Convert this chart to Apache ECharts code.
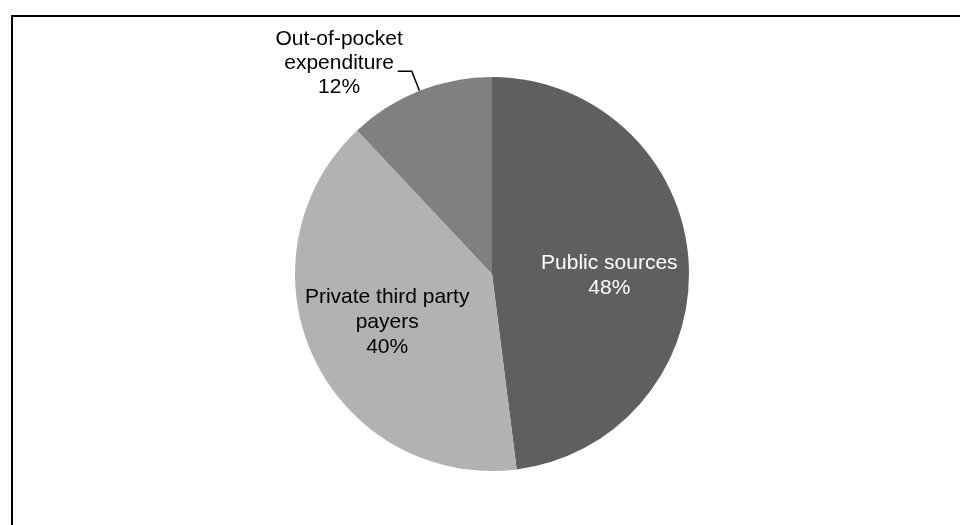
<!DOCTYPE html>
<html>
<head>
<meta charset="utf-8">
<title>Sources of expenditure</title>
<script src="https://cdn.jsdelivr.net/npm/echarts@6/dist/echarts.min.js"></script>
<style>
  html, body { margin: 0; padding: 0; background: #ffffff; }
  #chart { width: 960px; height: 525px; }
</style>
</head>
<body>
<div id="chart"></div>
<script>
// Shares of expenditure by source (percent)
const categories = ['Public sources', 'Private third party\npayers', 'Out-of-pocket\nexpenditure'];
const shares = [48, 40, 12];
const sliceColors = ['#5f5f5f', '#b2b2b2', '#808080'];

const FONT = '"Liberation Sans", Arial, sans-serif';

// wrap every line of a label in a centred rich-text token
function centredLines(text) {
  return text.split('\n').map(function (l) { return '{c|' + l + '}'; }).join('\n');
}

const labelStyles = [
  { position: 'inside', color: '#ffffff', offset: [16, 8], lineHeight: 25 },
  { position: 'inside', color: '#000000', offset: [-13, 5], lineHeight: 25 },
  { position: 'outside', color: '#000000', lineHeight: 24, distanceToLabelLine: -5, padding: [0, 0, 16, 0] }
];

const data = categories.map(function (name, i) {
  const ls = labelStyles[i];
  return {
    name: name,
    value: shares[i],
    itemStyle: { color: sliceColors[i] },
    label: {
      show: true,
      position: ls.position,
      offset: ls.offset,
      distanceToLabelLine: ls.distanceToLabelLine,
      padding: ls.padding,
      formatter: function (p) { return centredLines(p.name + '\n' + p.value + '%'); },
      rich: {
        c: { align: 'center', color: ls.color, fontSize: 21, fontFamily: FONT, lineHeight: ls.lineHeight }
      }
    },
    labelLine: {
      show: ls.position === 'outside',
      length: 21,
      length2: 14,
      smooth: false,
      lineStyle: { color: '#000000', width: 1.5 }
    }
  };
});

const chart = echarts.init(document.getElementById('chart'), null, { renderer: 'canvas' });
chart.setOption({
  backgroundColor: '#ffffff',
  animation: false,
  graphic: [{
    type: 'rect',
    shape: { x: 12, y: 16, width: 1000, height: 600 },
    style: { fill: 'none', stroke: '#000000', lineWidth: 2 },
    silent: true
  }],
  series: [{
    type: 'pie',
    center: [492, 274],
    radius: 197,
    startAngle: 90,
    clockwise: true,
    avoidLabelOverlap: false,
    itemStyle: { borderWidth: 0 },
    label: { fontFamily: FONT, fontSize: 21 },
    emphasis: { disabled: true },
    data: data
  }]
});
</script>
</body>
</html>
